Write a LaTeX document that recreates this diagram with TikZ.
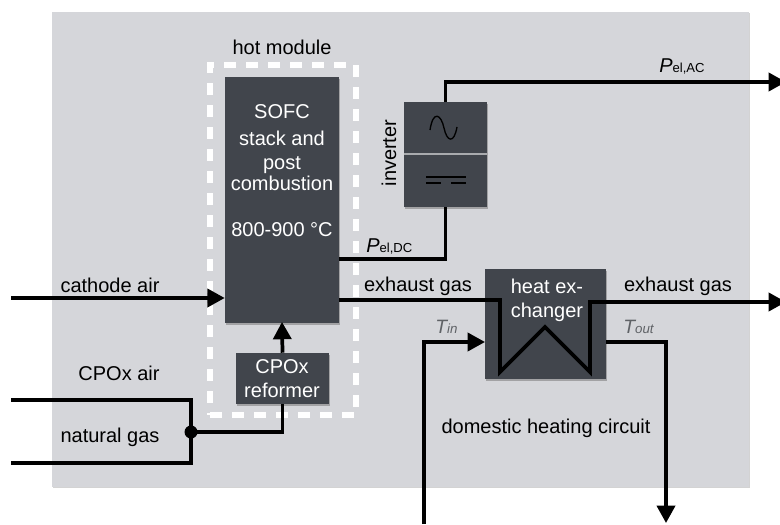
\documentclass[tikz,border=0pt]{standalone}
\usepackage{fontspec}
\setmainfont{Liberation Sans}
\usetikzlibrary{arrows.meta,shadows}

\definecolor{panelgray}{HTML}{D5D6DA}
\definecolor{boxgray}{HTML}{41454C}
\definecolor{templabel}{HTML}{5F6266}
\definecolor{dividergray}{HTML}{A9ABAE}

\tikzset{
  unit/.style={fill=boxgray, inner sep=0pt, drop shadow={shadow xshift=1pt, shadow yshift=-1.4pt, opacity=.6}},
  unittext/.style={text=white, align=center, inner sep=0pt, font=\fontsize{15}{15}\selectfont},
  label/.style={text=black, inner sep=0pt, font=\fontsize{15}{15}\selectfont},
  templabel/.style={text=templabel, inner sep=0pt, font=\fontsize{14.5}{15}\selectfont\itshape},
  flow/.style={line width=2.8pt, miter limit=4},
  flowarrow/.style={flow, -{Triangle[length=13pt,width=13.5pt]}},
}

\begin{document}
\begin{tikzpicture}[x=0.75pt, y=-0.75pt]
  \useasboundingbox (0,0) rectangle (780,524);
  % background panel
  \node [fill=panelgray, inner sep=0pt, minimum width=522.75pt, minimum height=356.25pt,
         drop shadow={shadow xshift=.8pt, shadow yshift=-.8pt, opacity=.35}] at (400.5, 249.5) (panel) {};
  % hot module frame
  \node [draw=white, line width=4.2pt, dash pattern=on 8.8pt off 7.7pt, inner sep=0pt,
         minimum width=109.5pt, minimum height=262.5pt] at (283, 240) (hotmodule) {};
  \node [label] at (282, 47) (hotlabel) {hot module};

  % units
  \node [unit, minimum width=85.5pt, minimum height=184.5pt] at (282, 200) (sofc) {};
  \node [unittext] at (282, 171) (sofctext) {SOFC\\[5.2pt]stack and\\[3pt]post\\[.7pt]combustion\\[19.5pt]800-900 °C};
  \node [unit, minimum width=69.75pt, minimum height=38.25pt] at (282.5, 378.5) (cpox) {};
  \node [unittext] at (282, 379) (cpoxtext) {CPOx\\[3pt]reformer};
  \node [unit, minimum width=62.25pt, minimum height=78.75pt] at (445.5, 154.5) (inverter) {};
  \node [unit, minimum width=90.75pt, minimum height=82.5pt] at (545.5, 324) (hx) {};
  \node [unittext] at (547, 300) (hxtext) {heat ex-\\[3pt]changer};

  % inverter symbols
  \coordinate (divl) at (404, 154);
  \coordinate (divr) at (487, 154);
  \draw [dividergray, line width=1.1pt] (divl) -- (divr);
  \draw [black, line width=1pt] (430, 130) .. controls (433, 110) and (441, 114) .. (444, 128)
    .. controls (447, 142) and (454, 144) .. (457, 127);
  \draw [black, line width=1.1pt] (426, 177) -- (466, 177);
  \draw [black, line width=1.1pt] (426, 183) -- (441, 183) (451, 183) -- (466, 183);
  \node [label, rotate=90] at (389, 153) (inverterlabel) {inverter};

  % free ends
  \coordinate (cathodein) at (11, 298);
  \coordinate (cpoxin) at (11, 400);
  \coordinate (gasin) at (11, 463);
  \coordinate (acout) at (786, 82);
  \coordinate (exhaustout) at (786, 302);
  \coordinate (waterin) at (424, 524);
  \coordinate (waterout) at (666, 523);
  \coordinate (junction) at (191, 432);
  \coordinate (dcstart) at (339, 259);
  \coordinate (exhauststart) at (339, 300);
  \coordinate (toutstart) at (606, 342);
  \coordinate (tinend) at (485, 342);

  % connections
  \draw [flowarrow] (cathodein) -- (sofc.west |- cathodein);
  \draw [flowarrow, shorten >=-1pt] (cpox.north) -- (sofc.south);
  \draw [flow] (cpoxin) -| (junction) |- (gasin);
  \fill (junction) circle (6.5);
  \draw [flow] (junction) -| (cpox.south);
  \draw [flow] (dcstart) -| (inverter.south);
  \draw [flowarrow] (inverter.north) |- (acout);
  \draw [flowarrow] (exhauststart) -- (500, 300) -- (500, 372) -- (545, 327) -- (590, 372) -- (590, 302) -- (exhaustout);
  \draw [flowarrow] (waterin) |- (tinend);
  \draw [flowarrow] (toutstart) -| (waterout);

  % labels
  \node [label] at (110, 285) (cathodelabel) {cathode air};
  \node [label] at (119, 373) (cpoxlabel) {CPOx air};
  \node [label] at (110, 437) (gaslabel) {natural gas};
  \node [label] at (418, 286) (exhaustlabela) {exhaust gas};
  \node [label] at (678, 286) (exhaustlabelb) {exhaust gas};
  \node [label] at (546, 428) (heatinglabel) {domestic heating circuit};
  \node [label, anchor=base west] at (366, 252) (pdclabel) {\textit{P}{\fontsize{9.8}{10}\selectfont el,DC}};
  \node [label, anchor=base west] at (659, 73) (paclabel) {\textit{P}{\fontsize{9.8}{10}\selectfont el,AC}};
  \node [templabel, anchor=base west] at (435, 333) (tinlabel) {T{\fontsize{10}{10}\selectfont in}};
  \node [templabel, anchor=base west] at (623, 333) (toutlabel) {T{\fontsize{10}{10}\selectfont out}};
\end{tikzpicture}
\end{document}
